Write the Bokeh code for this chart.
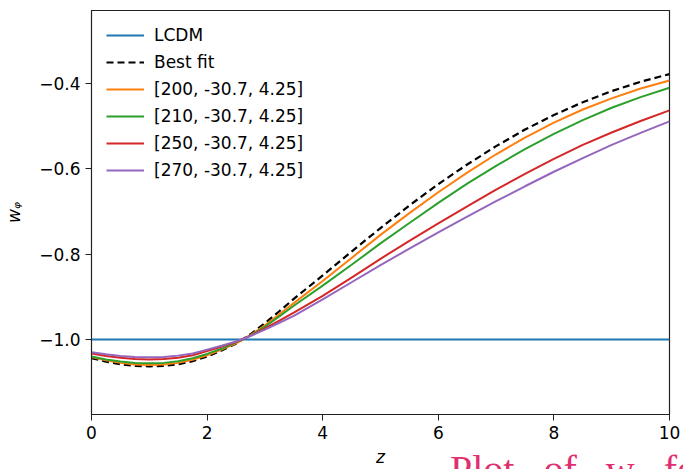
from bokeh.plotting import figure
from bokeh.models import Range1d, FixedTicker, CustomJSTickFormatter, Legend, LegendItem, Div
from bokeh.layouts import column
from bokeh.embed import file_html
from bokeh.resources import INLINE

# ---- data ----
z = [0, 0.25, 0.5, 0.75, 1, 1.25, 1.5, 1.75, 2, 2.25, 2.5, 2.75, 3, 3.25, 3.5,
     4, 4.5, 5, 5.5, 6, 6.5, 7, 7.5, 8, 8.5, 9, 9.5, 10]

lcdm_z = [0, 10]
lcdm_w = [-1.0, -1.0]

best_fit = [-1.044, -1.052, -1.058, -1.062, -1.063, -1.062, -1.058, -1.051, -1.040, -1.026,
            -1.010, -0.988, -0.962, -0.934, -0.905,
            -0.850, -0.794, -0.739, -0.686, -0.636, -0.590, -0.547, -0.508, -0.474, -0.444,
            -0.418, -0.396, -0.378]
w_200 = [-1.041, -1.049, -1.055, -1.059, -1.060, -1.059, -1.055, -1.048, -1.037, -1.024,
         -1.009, -0.990, -0.967, -0.941, -0.915,
         -0.863, -0.809, -0.755, -0.704, -0.655, -0.609, -0.566, -0.527, -0.492, -0.461,
         -0.435, -0.412, -0.393]
w_210 = [-1.040, -1.047, -1.052, -1.055, -1.056, -1.055, -1.051, -1.044, -1.034, -1.022,
         -1.007, -0.991, -0.970, -0.946, -0.921,
         -0.874, -0.825, -0.775, -0.727, -0.680, -0.635, -0.593, -0.554, -0.518, -0.486,
         -0.457, -0.432, -0.410]
w_250 = [-1.033, -1.039, -1.043, -1.046, -1.047, -1.046, -1.043, -1.037, -1.027, -1.017,
         -1.006, -0.991, -0.974, -0.956, -0.937,
         -0.898, -0.855, -0.811, -0.769, -0.728, -0.688, -0.649, -0.612, -0.577, -0.544,
         -0.515, -0.488, -0.463]
w_270 = [-1.030, -1.035, -1.039, -1.041, -1.042, -1.041, -1.038, -1.033, -1.024, -1.015,
         -1.005, -0.992, -0.977, -0.961, -0.945,
         -0.906, -0.866, -0.826, -0.787, -0.749, -0.712, -0.676, -0.641, -0.607, -0.575,
         -0.544, -0.516, -0.489]

labels = ["LCDM", "Best fit", "[200, -30.7, 4.25]", "[210, -30.7, 4.25]",
          "[250, -30.7, 4.25]", "[270, -30.7, 4.25]"]
colors = ["#1f77b4", "#000000", "#ff7f0e", "#2ca02c", "#d62728", "#9467bd"]

x_ticks = [0, 2, 4, 6, 8, 10]
y_ticks = [-1.0, -0.8, -0.6, -0.4]

caption = "Plot of w for"

FONT = "DejaVu Sans"
FS = "17px"

p = figure(width=683, height=469, output_backend="svg", toolbar_location=None,
           x_range=Range1d(0, 10), y_range=Range1d(-1.176, -0.229),
           min_border_left=91, min_border_right=14, min_border_top=10, min_border_bottom=55)

p.background_fill_color = "white"
p.border_fill_color = "white"
p.outline_line_color = "#222222"
p.outline_line_width = 1.2
p.xgrid.visible = False
p.ygrid.visible = False

r_lcdm = p.line(lcdm_z, lcdm_w, line_color=colors[0], line_width=2)
r_best = p.line(z, best_fit, line_color=colors[1], line_width=2.2, line_dash="7 4")
r_200 = p.line(z, w_200, line_color=colors[2], line_width=2)
r_210 = p.line(z, w_210, line_color=colors[3], line_width=2)
r_250 = p.line(z, w_250, line_color=colors[4], line_width=2)
r_270 = p.line(z, w_270, line_color=colors[5], line_width=2)

renderers = [r_lcdm, r_best, r_200, r_210, r_250, r_270]
legend = Legend(items=[LegendItem(label=l, renderers=[r]) for l, r in zip(labels, renderers)],
                location="top_left")
legend.label_text_font = FONT
legend.label_text_font_size = FS
legend.label_text_color = "black"
legend.glyph_width = 38
legend.glyph_height = 20
legend.label_height = 20
legend.spacing = 7
legend.label_standoff = 10
legend.padding = 6
legend.margin = 9
legend.border_line_alpha = 0
legend.background_fill_alpha = 0
p.add_layout(legend)

for ax in (p.xaxis[0], p.yaxis[0]):
    ax.major_label_text_font = FONT
    ax.major_label_text_font_size = FS
    ax.major_label_text_color = "black"
    ax.axis_line_color = "#222222"
    ax.major_tick_line_color = "#222222"
    ax.major_tick_out = 6
    ax.major_tick_in = 0
    ax.minor_tick_line_color = None
    ax.axis_label_text_font = FONT
    ax.axis_label_text_font_size = FS
    ax.axis_label_text_font_style = "italic"
    ax.axis_label_text_color = "black"

p.xaxis.ticker = FixedTicker(ticks=x_ticks)
p.yaxis.ticker = FixedTicker(ticks=y_ticks)
p.yaxis.formatter = CustomJSTickFormatter(
    code="return (tick < 0 ? '\u2212' : '') + Math.abs(tick).toFixed(1);")
p.xaxis.major_label_standoff = 5
p.yaxis.major_label_standoff = 5
p.xaxis.axis_label = "z"
p.yaxis.axis_label = "w\u1d69"
p.xaxis.axis_label_standoff = 5
p.yaxis.axis_label_standoff = 12

# cropped caption visible at the bottom edge of the reference image
cap = Div(text=('<span style="font-family: \'Liberation Serif\'; font-size: 40px; '
                'line-height: 46px; color: #e0306f; white-space: nowrap; '
                'word-spacing: 19px;">' + caption + '</span>'),
          width=233, height=46, margin=(-22, 0, 0, 450))

layout = column(p, cap, spacing=0)

open("out.html", "w").write(file_html(layout, INLINE))
